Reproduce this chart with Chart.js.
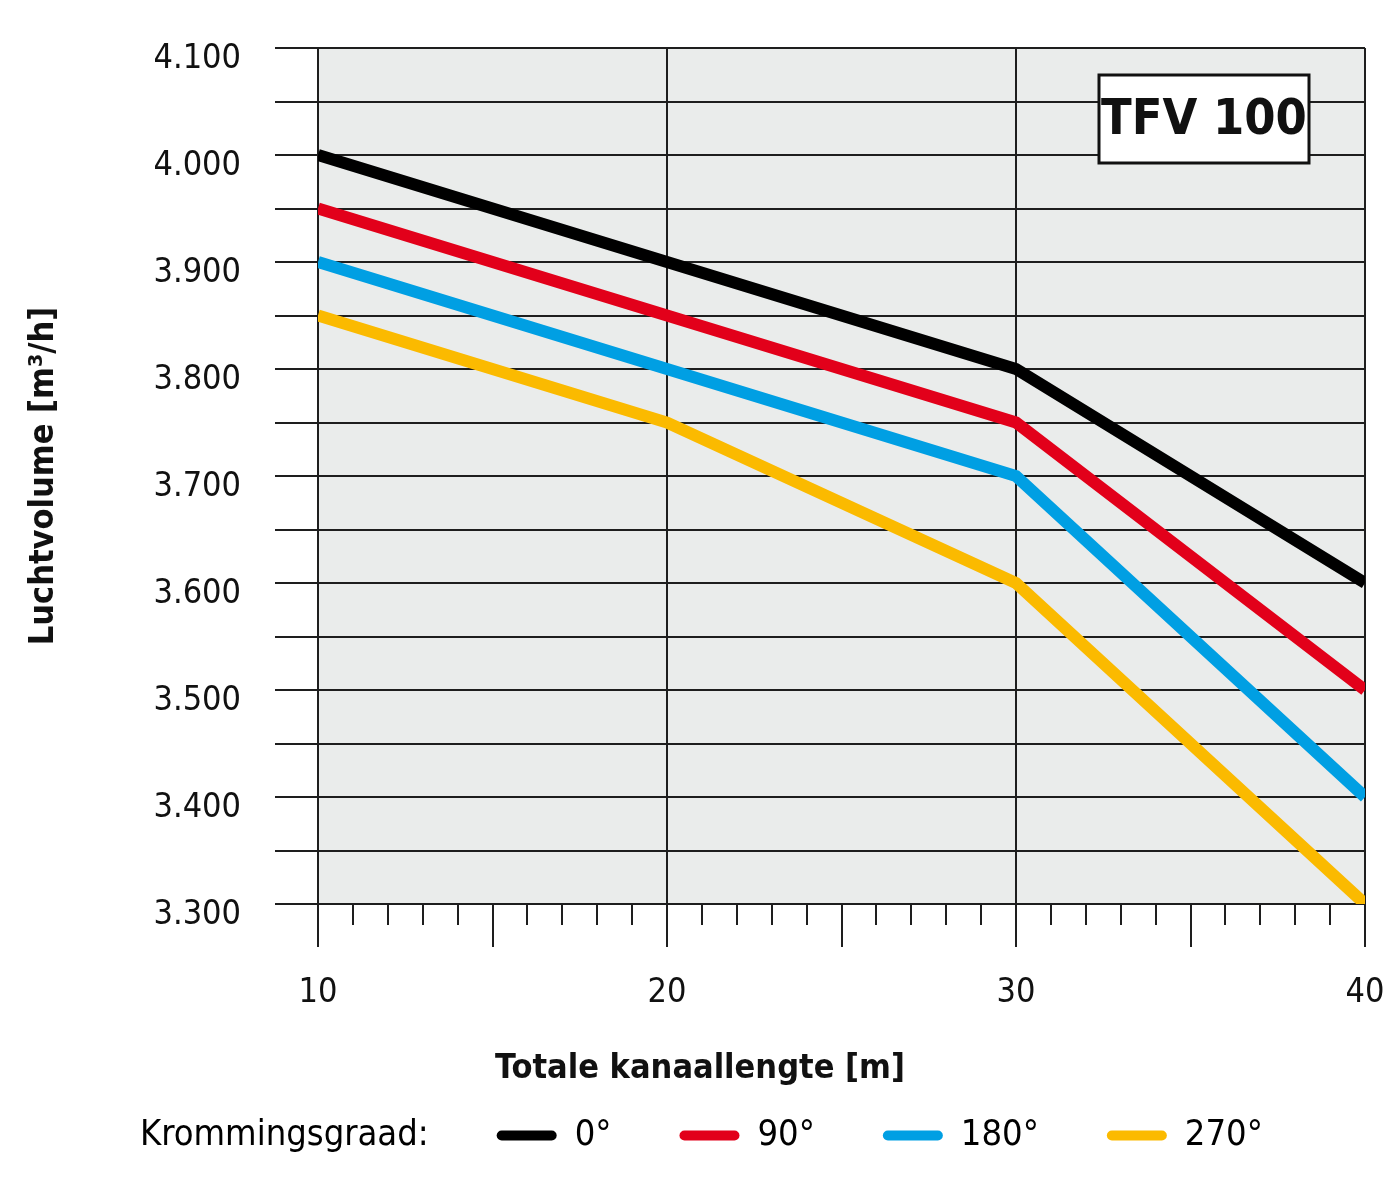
<!DOCTYPE html>
<html>
<head>
<meta charset="utf-8">
<script src="https://cdn.jsdelivr.net/npm/chart.js@4/dist/chart.umd.min.js"></script>
<style>
  html, body { margin: 0; padding: 0; background: #fff; }
  #wrap { width: 1400px; height: 1181px; }
</style>
</head>
<body>
<div id="wrap"><canvas id="chart"></canvas></div>
<script>
// data
const lengths = [10, 20, 30, 40];
const curve0 = [4000, 3900, 3800, 3600];
const curve90 = [3950, 3850, 3750, 3500];
const curve180 = [3900, 3800, 3700, 3400];
const curve270 = [3850, 3750, 3600, 3300];
const seriesNames = ['0°', '90°', '180°', '270°'];
const seriesColors = ['#000000', '#e2001a', '#009fe3', '#fbba00'];

const yTickValues = [3300, 3400, 3500, 3600, 3700, 3800, 3900, 4000, 4100];
const yTickLabels = ['3.300', '3.400', '3.500', '3.600', '3.700', '3.800', '3.900', '4.000', '4.100'];
const xTickValues = [10, 20, 30, 40];
const xTickLabels = ['10', '20', '30', '40'];

const NARROW = '"DejaVu Sans Condensed", "Liberation Sans Narrow", sans-serif';
const GRID = '#1e1e1e';
const TEXT = '#111111';
const SIDE = -6;   // layout side padding; plot left/right are pinned by afterFit

Chart.defaults.font.family = NARROW;

const plotBg = {
  id: 'plotBg',
  beforeDraw(chart) {
    const { ctx, chartArea: a } = chart;
    ctx.save();
    ctx.fillStyle = '#eaeceb';
    ctx.fillRect(a.left, a.top, a.width, a.height);
    ctx.restore();
  }
};

const tagBox = {
  id: 'tagBox',
  afterDraw(chart, args, opts) {
    const { ctx, chartArea: a } = chart;
    const w = 210, h = 88;
    const x = a.right - 56 - w, y = a.top + 27;
    ctx.save();
    ctx.fillStyle = '#ffffff';
    ctx.fillRect(x, y, w, h);
    ctx.lineWidth = 3;
    ctx.strokeStyle = TEXT;
    ctx.strokeRect(x, y, w, h);
    ctx.font = 'bold 50px ' + NARROW;
    ctx.fillStyle = TEXT;
    ctx.textAlign = 'center';
    ctx.textBaseline = 'middle';
    ctx.fillText(opts.text, x + w / 2, y + h / 2 + 2);
    ctx.restore();
  }
};

// label overhang paddings would push the plot area in; the reference has none
const noOverhang = s => {
  s.paddingTop = 0; s.paddingBottom = 0; s.paddingLeft = 0; s.paddingRight = 0;
};

const curves = [curve0, curve90, curve180, curve270];
const datasets = curves.map((vals, i) => ({
  label: seriesNames[i],
  data: lengths.map((x, j) => ({ x, y: vals[j] })),
  borderColor: seriesColors[i],
  backgroundColor: seriesColors[i],
  borderWidth: 12,
  pointRadius: 0,
  tension: 0,
  clip: 0,
  xAxisID: 'x',
  yAxisID: 'y'
}));

new Chart(document.getElementById('chart'), {
  type: 'line',
  data: { datasets },
  plugins: [plotBg, tagBox],
  options: {
    responsive: true,
    maintainAspectRatio: false,
    animation: false,
    layout: { padding: { left: SIDE, right: SIDE, top: 48, bottom: 17.5 } },
    scales: {
      x: {
        type: 'linear', position: 'bottom', weight: 1, z: 1,
        min: 10, max: 40,
        ticks: {
          stepSize: 5, autoSkip: false, maxRotation: 0, padding: 26,
          color: TEXT, font: { size: 34 },
          callback: v => { const i = xTickValues.indexOf(v); return i >= 0 ? xTickLabels[i] : ''; }
        },
        grid: {
          color: c => (c.tick && c.tick.value % 10 === 0) ? GRID : 'rgba(0,0,0,0)',
          lineWidth: 2, tickColor: GRID, tickWidth: 2, tickLength: 22
        },
        border: { display: false },
        afterFit: noOverhang
      },
      xMinor: {
        type: 'linear', position: 'bottom', weight: 0, z: 1,
        min: 10, max: 40,
        ticks: { stepSize: 1, autoSkip: false, display: false },
        grid: { drawOnChartArea: false, color: GRID, lineWidth: 2, tickLength: 21 },
        border: { display: false },
        afterFit: noOverhang
      },
      y: {
        type: 'linear', position: 'left', z: 1,
        min: 3300, max: 4100,
        ticks: {
          stepSize: 50, autoSkip: false, padding: 34, labelOffset: 11,
          color: TEXT, font: { size: 34 },
          callback: v => { const i = yTickValues.indexOf(v); return i >= 0 ? yTickLabels[i] : ''; }
        },
        grid: { color: GRID, lineWidth: 2, tickLength: 43 },
        border: { display: false },
        title: {
          display: true, text: 'Luchtvolume [m³/h]', color: TEXT,
          font: { size: 34, weight: 'bold' }, padding: { top: 30, bottom: 0 }
        },
        afterFit: s => { noOverhang(s); s.width = 318 - SIDE; }
      },
      yRight: {
        type: 'linear', position: 'right',
        grid: { display: false }, ticks: { display: false }, border: { display: false },
        afterFit: s => { noOverhang(s); s.width = 35 - SIDE; }
      }
    },
    plugins: {
      tooltip: { enabled: false },
      title: {
        display: true, position: 'bottom', weight: 500,
        text: 'Totale kanaallengte [m]', color: TEXT,
        font: { size: 34, weight: 'bold' },
        padding: { top: 9.4, bottom: -40.5 }
      },
      legend: {
        position: 'bottom', align: 'start', weight: 1000,
        onClick: () => {},
        labels: {
          boxWidth: 60, boxHeight: 10, padding: 68,
          useBorderRadius: true, borderRadius: 5,
          color: TEXT, font: { size: 36 },
          generateLabels: chart => [{
            text: 'Krommingsgraad:', fillStyle: 'rgba(0,0,0,0)', strokeStyle: 'rgba(0,0,0,0)',
            lineWidth: 0, hidden: false, datasetIndex: -1
          }].concat(chart.data.datasets.map((d, i) => ({
            text: d.label, fillStyle: d.borderColor, strokeStyle: d.borderColor,
            lineWidth: 0, hidden: false, datasetIndex: i, borderRadius: 5
          })))
        }
      },
      tagBox: { text: 'TFV 100' }
    }
  }
});
</script>
</body>
</html>
